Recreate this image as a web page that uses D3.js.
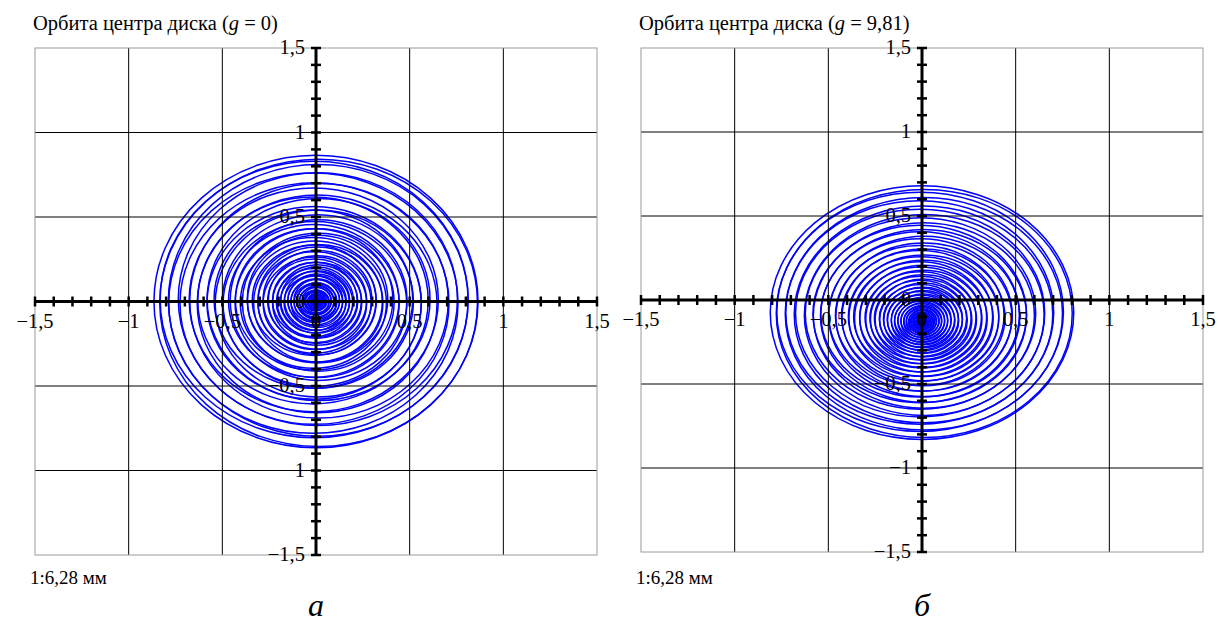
<!DOCTYPE html>
<html>
<head>
<meta charset="utf-8">
<script src="https://cdn.jsdelivr.net/npm/d3@7"></script>
<style>
  html, body { margin: 0; padding: 0; background: #fff; }
  svg { display: block; }
</style>
</head>
<body>
<svg id="chart" width="1218" height="624" font-family="'Liberation Serif', 'Times New Roman', serif"></svg>
<script>
// ---- data ----
const axisDomain = [-1.5, 1.5];
const labelValues = [-1.5, -1, -0.5, 0, 0.5, 1, 1.5];
const gridValues = [-1, -0.5, 0.5, 1];
const tickValues = [-1.5,-1.4,-1.3,-1.2,-1.1,-1.0,-0.9,-0.8,-0.7,-0.6,-0.5,-0.4,-0.3,-0.2,-0.1,0,
                    0.1,0.2,0.3,0.4,0.5,0.6,0.7,0.8,0.9,1.0,1.1,1.2,1.3,1.4,1.5];
const titles = ["Орбита центра диска (", "Орбита центра диска ("];
const titleValues = ["0", "9,81"];
const scaleNote = "1:6,28 мм";
const panelLetters = ["а", "б"];

// orbit rings, panel a: [cx, cy, rx, ry]
const ringsA = [
[0.000, 0.000,0.865,0.865],[0.014,-0.008,0.848,0.850],[-0.010,0.012,0.822,0.818],[0.012,0.006,0.800,0.804],
[-0.014,-0.010,0.772,0.770],[0.010,0.014,0.745,0.748],[-0.008,-0.012,0.718,0.715],[0.016,0.004,0.690,0.694],
[-0.012,0.010,0.665,0.662],[0.006,-0.014,0.640,0.644],[-0.016,0.006,0.615,0.612],[0.014,0.012,0.595,0.598],
[-0.010,-0.008,0.572,0.570],[0.012,-0.012,0.550,0.553],[-0.014,0.014,0.530,0.527],[0.010,0.000,0.510,0.513],
[-0.006,-0.014,0.490,0.488],[0.014,0.008,0.472,0.475],[-0.012,0.004,0.455,0.452],[0.006,-0.010,0.438,0.440],
[-0.010,0.012,0.420,0.418],[0.012,-0.004,0.405,0.408],[-0.014,-0.008,0.390,0.387],[0.008,0.014,0.375,0.378],
[-0.006,0.000,0.360,0.358],[0.012,-0.010,0.345,0.348],[-0.010,0.008,0.330,0.327],[0.006,0.004,0.316,0.319],
[-0.008,-0.006,0.302,0.300],[0.008,0.010,0.290,0.292],[-0.006,-0.010,0.276,0.274],[0.008,0.006,0.262,0.265],
[-0.008,0.004,0.250,0.248],[0.006,-0.008,0.238,0.240],[-0.006,0.008,0.226,0.224],[0.008,0.000,0.215,0.217],
[-0.008,-0.006,0.204,0.202],[0.006,0.008,0.194,0.196],[-0.006,-0.004,0.184,0.182],[0.006,0.006,0.174,0.176],
[-0.006,-0.008,0.165,0.163],[0.006,0.004,0.156,0.158],[-0.004,0.006,0.147,0.145],[0.004,-0.006,0.138,0.140],
[-0.004,0.004,0.130,0.128],[0.004,0.006,0.122,0.124],[-0.003,-0.004,0.114,0.112],[0.004,0.003,0.106,0.108],
[-0.003,0.004,0.099,0.097],[0.003,-0.003,0.092,0.094],[-0.003,0.003,0.085,0.083],[0.003,0.003,0.078,0.080],
[-0.002,-0.003,0.072,0.070],[0.003,0.000,0.066,0.068],[0.000,0.003,0.060,0.058],[-0.002,0.000,0.054,0.056],
[0.001,-0.001,0.048,0.048],[0.000,0.001,0.043,0.043],[-0.001,0.000,0.038,0.038],[0.001,0.001,0.033,0.033],
[0.000,-0.001,0.028,0.028],[0.000,0.000,0.024,0.024],[0.000,0.000,0.020,0.020],[0.000,0.000,0.016,0.016],
[0.000,0.000,0.012,0.012],[0.000,0.000,0.008,0.008],[0.000,0.000,0.004,0.004]
];

// orbit rings, panel б: [cx, cy, rx, ry]
const ringsB = [
[0.000,-0.075,0.810,0.755],[0.012,-0.080,0.790,0.738],[-0.010,-0.070,0.765,0.712],[0.010,-0.082,0.740,0.692],
[-0.012,-0.074,0.715,0.665],[0.008,-0.086,0.690,0.645],[-0.010,-0.078,0.665,0.618],[0.012,-0.089,0.640,0.598],
[-0.008,-0.080,0.615,0.570],[0.010,-0.092,0.590,0.552],[-0.012,-0.083,0.570,0.528],[0.008,-0.095,0.550,0.514],
[-0.010,-0.086,0.530,0.492],[0.012,-0.098,0.510,0.477],[-0.008,-0.089,0.490,0.454],[0.010,-0.101,0.470,0.440],
[-0.012,-0.092,0.450,0.417],[0.008,-0.103,0.435,0.407],[-0.010,-0.095,0.420,0.389],[0.010,-0.106,0.400,0.374],
[-0.008,-0.098,0.385,0.356],[0.010,-0.109,0.370,0.346],[-0.010,-0.100,0.355,0.328],[0.008,-0.111,0.340,0.318],
[-0.008,-0.103,0.325,0.300],[0.010,-0.113,0.310,0.290],[-0.008,-0.105,0.296,0.273],[0.008,-0.115,0.283,0.265],
[-0.008,-0.107,0.270,0.249],[0.008,-0.117,0.258,0.242],[-0.008,-0.109,0.246,0.227],[0.008,-0.119,0.234,0.220],
[-0.006,-0.111,0.222,0.204],[0.006,-0.121,0.210,0.197],[-0.006,-0.113,0.200,0.184],[0.006,-0.122,0.190,0.179],
[-0.006,-0.115,0.180,0.165],[0.006,-0.124,0.170,0.160],[-0.004,-0.117,0.160,0.147],[0.004,-0.125,0.151,0.142],
[-0.004,-0.119,0.142,0.130],[0.004,-0.126,0.133,0.126],[-0.004,-0.121,0.125,0.114],[0.004,-0.127,0.117,0.111],
[-0.003,-0.122,0.109,0.099],[0.003,-0.128,0.101,0.096],[-0.002,-0.123,0.094,0.085],[0.002,-0.128,0.087,0.083],
[-0.002,-0.124,0.080,0.072],[0.002,-0.129,0.074,0.071],[0.000,-0.126,0.068,0.063],[0.000,-0.129,0.062,0.058],
[0.000,-0.127,0.056,0.052],[0.000,-0.129,0.050,0.047],[0.000,-0.128,0.045,0.042],[0.000,-0.129,0.040,0.037],
[0.000,-0.129,0.035,0.033],[0.000,-0.130,0.030,0.028],[0.000,-0.130,0.025,0.023],[0.000,-0.130,0.021,0.020],
[0.000,-0.130,0.017,0.016],[0.000,-0.130,0.013,0.012],[0.000,-0.130,0.009,0.008],[0.000,-0.130,0.006,0.006],
[0.000,-0.130,0.003,0.003]
];

// ---- layout ----
const panels = [
  { x0: 35,  x1: 597,  y0: 48, y1: 555, rings: ringsA, title: 0 },
  { x0: 641, x1: 1203, y0: 48, y1: 552, rings: ringsB, title: 1 }
];

const FONT = "'Liberation Serif', 'Times New Roman', serif";
const svg = d3.select("#chart");
const fmt = v => {
  if (v === 0) return "0";
  const s = String(Math.abs(v)).replace(".", ",");
  return (v < 0 ? "\u2212" : "") + s;
};

panels.forEach((p, i) => {
  const x = d3.scaleLinear().domain(axisDomain).range([p.x0, p.x1]);
  const y = d3.scaleLinear().domain(axisDomain).range([p.y1, p.y0]);
  const g = svg.append("g").attr("font-family", FONT).attr("fill", "#000");

  // title
  const t = g.append("text").attr("x", p.x0 - 2).attr("y", 30).attr("font-size", 20.5)
    .attr("font-family", FONT);
  t.append("tspan").text(titles[p.title]);
  t.append("tspan").attr("font-style", "italic").text("g");
  t.append("tspan").text(" = " + titleValues[p.title] + ")");

  // rings
  g.append("g").selectAll("ellipse").data(p.rings).join("ellipse")
    .attr("cx", d => x(d[0]))
    .attr("cy", d => y(d[1]))
    .attr("rx", d => x(d[2]) - x(0))
    .attr("ry", d => y(0) - y(d[3]))
    .attr("fill", "none")
    .attr("stroke", "#0000ff")
    .attr("stroke-width", 1.5);

  // grid
  g.append("g").selectAll("line").data(gridValues).join("line")
    .attr("x1", d => x(d)).attr("x2", d => x(d))
    .attr("y1", p.y0).attr("y2", p.y1)
    .attr("stroke", "#000").attr("stroke-width", 1);
  g.append("g").selectAll("line").data(gridValues).join("line")
    .attr("y1", d => y(d)).attr("y2", d => y(d))
    .attr("x1", p.x0).attr("x2", p.x1)
    .attr("stroke", "#000").attr("stroke-width", 1);

  // frame
  g.append("rect")
    .attr("x", p.x0).attr("y", p.y0)
    .attr("width", p.x1 - p.x0).attr("height", p.y1 - p.y0)
    .attr("fill", "none").attr("stroke", "#9a9a9a").attr("stroke-width", 1);

  // axes
  const ax = g.append("g");
  ax.append("line").attr("x1", x(-1.5)).attr("x2", x(1.5)).attr("y1", y(0)).attr("y2", y(0))
    .attr("stroke", "#000").attr("stroke-width", 3);
  ax.append("line").attr("y1", y(-1.5)).attr("y2", y(1.5)).attr("x1", x(0)).attr("x2", x(0))
    .attr("stroke", "#000").attr("stroke-width", 3);
  ax.append("g").selectAll("line").data(tickValues).join("line")
    .attr("x1", d => x(d)).attr("x2", d => x(d))
    .attr("y1", y(0) - 5).attr("y2", y(0) + 5)
    .attr("stroke", "#000").attr("stroke-width", 2.5);
  ax.append("g").selectAll("line").data(tickValues).join("line")
    .attr("y1", d => y(d)).attr("y2", d => y(d))
    .attr("x1", x(0) - 5).attr("x2", x(0) + 5)
    .attr("stroke", "#000").attr("stroke-width", 2.5);

  // labels
  g.append("g").selectAll("text").data(labelValues).join("text")
    .attr("font-family", FONT)
    .attr("x", d => x(d)).attr("y", y(0) + 26)
    .attr("text-anchor", "middle").attr("font-size", 20.5)
    .text(fmt);
  g.append("g").selectAll("text").data(labelValues).join("text")
    .attr("font-family", FONT)
    .attr("x", x(0) - 11).attr("y", d => y(d) + 6)
    .attr("text-anchor", "end").attr("font-size", 20.5)
    .text(fmt);

  // scale note and panel letter
  g.append("text").attr("font-family", FONT).attr("x", p.x0 - 5).attr("y", 584)
    .attr("font-size", 19).text(scaleNote);
  g.append("text").attr("font-family", FONT).attr("x", x(0)).attr("y", 616)
    .attr("text-anchor", "middle")
    .attr("font-size", 32).attr("font-style", "italic").text(panelLetters[i]);
});
</script>
</body>
</html>
